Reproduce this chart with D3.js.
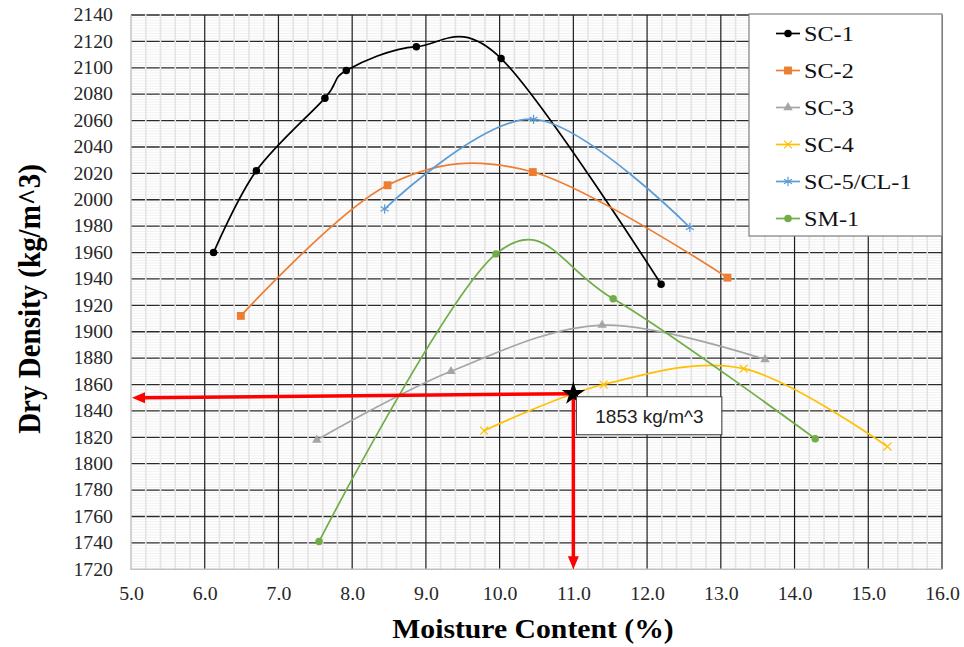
<!DOCTYPE html>
<html>
<head>
<meta charset="utf-8">
<script src="https://cdn.jsdelivr.net/npm/d3@7"></script>
<style>
  body { margin: 0; background: #fff; }
  svg { display: block; }
</style>
</head>
<body>
<svg id="chart" width="964" height="647"></svg>
<script>
// data
const seriesNames  = ["SC-1", "SC-2", "SC-3", "SC-4", "SC-5/CL-1", "SM-1"];
const seriesColors = ["#000000", "#ED7D31", "#A5A5A5", "#FFC000", "#5B9BD5", "#70AD47"];
const seriesMarks  = ["circle", "square", "triangle", "times", "asterisk", "circle"];

const sc1Moisture = [6.12, 6.70, 7.63, 7.92, 8.87, 10.02, 12.19];
const sc1Density  = [1960, 2022, 2077, 2098, 2116, 2107, 1936];
const sc2Moisture = [6.49, 8.48, 10.45, 13.09];
const sc2Density  = [1912, 2011, 2021, 1941];
const sc3Moisture = [7.52, 9.34, 11.39, 13.60];
const sc3Density  = [1818, 1870, 1905, 1879];
const sc4Moisture = [9.79, 11.41, 13.31, 15.26];
const sc4Density  = [1825, 1860, 1872, 1813];
const sc5Moisture = [8.44, 10.46, 12.58];
const sc5Density  = [1993, 2061, 1979];
const sm1Moisture = [7.55, 9.95, 11.54, 14.28];
const sm1Density  = [1741, 1959, 1925, 1819];

const moistureSets = [sc1Moisture, sc2Moisture, sc3Moisture, sc4Moisture, sc5Moisture, sm1Moisture];
const densitySets  = [sc1Density, sc2Density, sc3Density, sc4Density, sc5Density, sm1Density];

// optimum read-out
const optMoisture = 11.0;
const optDensity  = 1853;
const optLabel    = "1853 kg/m^3";

// axes
const xTicks = [5, 6, 7, 8, 9, 10, 11, 12, 13, 14, 15, 16];
const yTicks = [1720, 1740, 1760, 1780, 1800, 1820, 1840, 1860, 1880, 1900, 1920,
                1940, 1960, 1980, 2000, 2020, 2040, 2060, 2080, 2100, 2120, 2140];
const xTitle = "Moisture Content (%)";
const yTitle = "Dry Density (kg/m^3)";

const series = seriesNames.map((name, i) => ({
  name,
  color: seriesColors[i],
  mark:  seriesMarks[i],
  points: moistureSets[i].map((m, j) => ({ x: m, y: densitySets[i][j] }))
}));

const svg = d3.select("#chart");
const W = 964, H = 647;
const margin = { top: 15, right: 22, bottom: 77.7, left: 131 };
const SERIF = "'Liberation Serif', 'Times New Roman', serif";
const SANS  = "'Liberation Sans', Arial, sans-serif";
const STRETCH = 1.1;

const x = d3.scaleLinear().domain([5, 16]).range([margin.left, W - margin.right]);
const y = d3.scaleLinear().domain([1720, 2140]).range([H - margin.bottom, margin.top]);

// grid
const grid = svg.append("g");
const minorY = d3.range(1722, 2140, 2).filter(v => v % 20 !== 0);
const minorX = d3.range(5.2, 16, 0.2).filter(v => Math.abs(v - Math.round(v)) > 0.01);

grid.selectAll(".minor-h")
  .data(minorY)
  .join("line")
    .attr("x1", x(5)).attr("x2", x(16))
    .attr("y1", d => y(d)).attr("y2", d => y(d))
    .attr("stroke", "#eeeeee")
    .attr("stroke-width", 0.8);

grid.selectAll(".major-h")
  .data(yTicks.filter(v => v > 1720))
  .join("line")
    .attr("x1", x(5)).attr("x2", x(16))
    .attr("y1", d => y(d)).attr("y2", d => y(d))
    .attr("stroke", "#2a2a2a")
    .attr("stroke-width", 1.3);

// light minor verticals over the major horizontals give the dashed look
grid.selectAll(".minor-v")
  .data(minorX)
  .join("line")
    .attr("x1", d => x(d)).attr("x2", d => x(d))
    .attr("y1", y(2140) - 1).attr("y2", y(1720))
    .attr("stroke", "#e4e4e4")
    .attr("stroke-width", 1.6);

grid.selectAll(".major-v")
  .data(xTicks.filter(v => v > 5))
  .join("line")
    .attr("x1", d => x(d)).attr("x2", d => x(d))
    .attr("y1", y(2140)).attr("y2", y(1720))
    .attr("stroke", "#1e1e1e")
    .attr("stroke-width", 1.2);

// left + bottom border
grid.append("path")
  .attr("d", `M${x(5)},${y(2140)}V${y(1720)}H${x(16)}`)
  .attr("fill", "none")
  .attr("stroke", "#c0c0c0")
  .attr("stroke-width", 1.4);

// axes (labels only)
const yAxis = svg.append("g")
  .attr("transform", `translate(${margin.left},0)`)
  .call(d3.axisLeft(y).tickValues(yTicks).tickSize(0).tickPadding(16.4).tickFormat(d3.format("d")));
const xAxis = svg.append("g")
  .attr("transform", `translate(0,${H - margin.bottom})`)
  .call(d3.axisBottom(x).tickValues(xTicks).tickSize(0).tickPadding(18.2).tickFormat(d3.format(".1f")));

[yAxis, xAxis].forEach(ax => {
  ax.attr("font-family", SERIF);
  ax.select(".domain").remove();
  ax.selectAll("text")
    .attr("transform", `scale(${STRETCH},1)`)
    .style("font-family", SERIF)
    .style("font-size", "18px")
    .attr("fill", "#262626");
});

// axis titles
svg.append("text")
  .attr("transform", `translate(533,638) scale(${STRETCH},1)`)
  .attr("text-anchor", "middle")
  .style("font-family", SERIF)
  .style("font-size", "27px")
  .style("font-weight", "bold")
  .text(xTitle);

svg.append("text")
  .attr("transform", `translate(40,299) rotate(-90) scale(1,${STRETCH})`)
  .attr("text-anchor", "middle")
  .style("font-family", SERIF)
  .style("font-size", "29px")
  .style("font-weight", "bold")
  .text(yTitle);

// series
const line = d3.line()
  .x(d => x(d.x))
  .y(d => y(d.y))
  .curve(d3.curveCardinal.tension(0));

const symbolType = {
  circle: d3.symbolCircle,
  square: d3.symbolSquare,
  triangle: d3.symbolTriangle,
  times: d3.symbolTimes,
  asterisk: d3.symbolAsterisk
};
const symbolSize = { circle: 44, square: 62, triangle: 38, times: 42, asterisk: 60 };

function drawMark(sel, s) {
  const filled = s.mark === "circle" || s.mark === "square" || s.mark === "triangle";
  sel.attr("d", d3.symbol(symbolType[s.mark], symbolSize[s.mark]))
    .attr("fill", filled ? s.color : "none")
    .attr("stroke", s.color)
    .attr("stroke-width", filled ? 0 : 1.2);
}

const plot = svg.append("g");
series.forEach(s => {
  const g = plot.append("g");
  g.append("path")
    .datum(s.points)
    .attr("d", line)
    .attr("fill", "none")
    .attr("stroke", s.color)
    .attr("stroke-width", 1.7);
  g.selectAll("path.mark")
    .data(s.points)
    .join("path")
      .attr("class", "mark")
      .attr("transform", d => `translate(${x(d.x)},${y(d.y)})`)
      .call(sel => drawMark(sel, s));
});

// red read-out arrows
const red = "#ff0000";
const ox = x(optMoisture), oy = y(optDensity);
const leftEndY = y(optDensity - 3);
svg.append("line")
  .attr("x1", ox).attr("y1", oy)
  .attr("x2", x(5) + 10).attr("y2", leftEndY)
  .attr("stroke", red).attr("stroke-width", 3.5);
svg.append("path")
  .attr("d", `M${x(5) + 1},${leftEndY}L${x(5) + 14},${leftEndY - 5.5}L${x(5) + 14},${leftEndY + 5.5}Z`)
  .attr("fill", red);
svg.append("line")
  .attr("x1", ox).attr("y1", oy)
  .attr("x2", ox).attr("y2", y(1720) - 10)
  .attr("stroke", red).attr("stroke-width", 3.5);
svg.append("path")
  .attr("d", `M${ox},${y(1720)}L${ox - 5.5},${y(1720) - 13}L${ox + 5.5},${y(1720) - 13}Z`)
  .attr("fill", red);

// star at optimum
svg.append("path")
  .attr("transform", `translate(${ox},${oy})`)
  .attr("d", d3.symbol(d3.symbolStar, 170))
  .attr("fill", "#000");

// label box
const box = svg.append("g").attr("transform", `translate(${ox + 3},${oy + 3})`);
box.append("rect")
  .attr("width", 145.5).attr("height", 38)
  .attr("fill", "#fff")
  .attr("stroke", "#333")
  .attr("stroke-width", 1);
box.append("text")
  .attr("x", 73).attr("y", 26)
  .attr("text-anchor", "middle")
  .style("font-family", SANS)
  .style("font-size", "19px")
  .attr("fill", "#222")
  .text(optLabel);

// legend
const legend = svg.append("g").attr("transform", "translate(749,14)");
legend.append("rect")
  .attr("width", 193).attr("height", 222)
  .attr("fill", "#fff")
  .attr("stroke", "#7f7f7f")
  .attr("stroke-width", 1.2);

const rows = legend.selectAll("g.row")
  .data(series)
  .join("g")
    .attr("class", "row")
    .attr("transform", (d, i) => `translate(0,${19.5 + i * 37})`);
rows.append("line")
  .attr("x1", 27).attr("x2", 51)
  .attr("stroke", d => d.color)
  .attr("stroke-width", 1.7);
rows.append("path")
  .attr("transform", "translate(39,0)")
  .each(function(d) { drawMark(d3.select(this), d); });
rows.append("text")
  .attr("transform", `translate(55,7.5) scale(${STRETCH},1)`)
  .style("font-family", SERIF)
  .style("font-size", "22px")
  .attr("fill", "#111")
  .text(d => d.name);
</script>
</body>
</html>
